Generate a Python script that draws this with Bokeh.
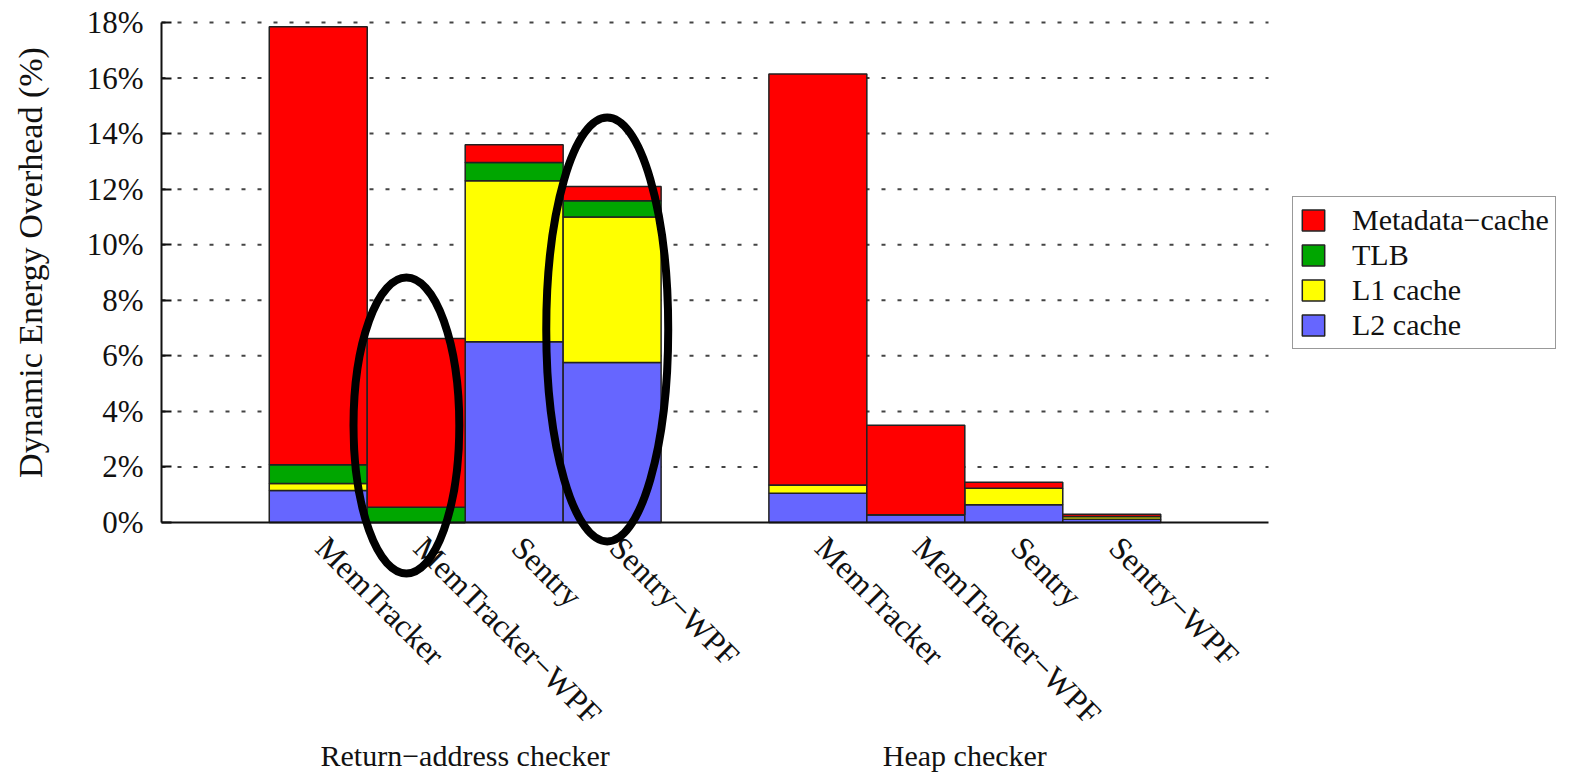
import math
from bokeh.plotting import figure
from bokeh.models import (ColumnDataSource, FixedTicker, PrintfTickFormatter,
                          Legend, LegendItem, Range1d)
from bokeh.core.properties import value
from bokeh.embed import file_html
from bokeh.resources import INLINE

# ---- data ----
groups = ["Return−address checker", "Heap checker"]
configs = ["MemTracker", "MemTracker−WPF", "Sentry", "Sentry−WPF"]
components = ["L2 cache", "L1 cache", "TLB", "Metadata−cache"]
colors = ["#6666FF", "#FFFF00", "#00A600", "#FF0000"]

# order: group 1 (4 configs), group 2 (4 configs)
l2_cache = [1.15, 0.00, 6.51, 5.76, 1.05, 0.28, 0.64, 0.12]
l1_cache = [0.25, 0.00, 5.79, 5.24, 0.30, 0.00, 0.59, 0.10]
tlb = [0.68, 0.55, 0.66, 0.58, 0.00, 0.00, 0.00, 0.00]
metadata_cache = [15.77, 6.07, 0.64, 0.52, 14.80, 3.22, 0.22, 0.08]

y_ticks = [0, 2, 4, 6, 8, 10, 12, 14, 16, 18]
y_title = "Dynamic Energy Overhead (%)"

# ---- layout (bar units) ----
bar_w = 1.0
gap = 1.1
xs, names, group_centers = [], [], []
for g in range(len(groups)):
    start = gap + g * (len(configs) * bar_w + gap)
    group_centers.append(start + len(configs) * bar_w / 2)
    for i, c in enumerate(configs):
        xs.append(start + (i + 0.5) * bar_w)
        names.append(c)
x_end = gap + len(groups) * (len(configs) * bar_w + gap)
y_top = y_ticks[-1]

W, H = 1570, 774
LEFT, TOP = 161, 22          # screen position of the axes origin / top
PX_PER_X = 1107 / x_end
PX_PER_Y = 500 / y_top
view_x_start = -LEFT / PX_PER_X
view_x_end = (W - LEFT) / PX_PER_X
view_y_max = y_top + TOP / PX_PER_Y
view_y_min = y_top - (H - TOP) / PX_PER_Y

src = ColumnDataSource(dict(x=xs, **{
    "L2 cache": l2_cache, "L1 cache": l1_cache, "TLB": tlb, "Metadata−cache": metadata_cache}))

FONT = "Liberation Serif"
TXT = "#111111"

p = figure(width=W, height=H, output_backend="svg", toolbar_location=None,
           x_range=Range1d(view_x_start, view_x_end), y_range=Range1d(view_y_min, view_y_max),
           min_border_left=0, min_border_top=0, min_border_bottom=0, min_border_right=0)
p.outline_line_color = None
p.background_fill_color = "white"
p.xgrid.visible = False
p.ygrid.visible = False
p.xaxis.visible = False

# dotted horizontal grid lines limited to the plotting area
grid_y = y_ticks[1:]
p.segment(x0=[0] * len(grid_y), x1=[x_end] * len(grid_y), y0=grid_y, y1=grid_y,
          line_color="#444444", line_dash="4 12", line_width=2)

rs = p.vbar_stack(components, x="x", width=bar_w, source=src, color=colors,
                  line_color="#222222", line_width=1.5)

# x axis line
p.segment(x0=[0], x1=[x_end], y0=[0], y1=[0], line_color="#111111", line_width=2)

# y axis, pinned at x = 0
ya = p.yaxis[0]
ya.fixed_location = 0
ya.bounds = (0, y_top)
ya.ticker = FixedTicker(ticks=y_ticks)
ya.formatter = PrintfTickFormatter(format="%d%%")
ya.major_tick_in = 10
ya.major_tick_out = 0
ya.minor_tick_line_color = None
ya.major_tick_line_width = 2
ya.axis_line_width = 2
ya.axis_line_color = "#111111"
ya.major_tick_line_color = "#111111"
ya.major_label_text_font = FONT
ya.major_label_text_font_size = "31px"
ya.major_label_text_color = TXT
ya.major_label_standoff = 18

# y axis title, centred on the 0-18% span
p.text(x=[0], y=[y_top / 2], text=[y_title], angle=math.pi / 2,
       text_align="center", text_baseline="middle", x_offset=-131, y_offset=-10,
       text_font=value(FONT), text_font_size="34px", text_color=TXT)

# config labels (rotated) below each bar
p.text(x=xs, y=[0] * len(xs), text=names, angle=-math.pi / 4,
       text_align="left", text_baseline="top", x_offset=16, y_offset=7,
       text_font=value(FONT), text_font_size="32px", text_color=TXT)

# group labels
p.text(x=group_centers, y=[0] * len(group_centers), text=groups,
       text_align="center", text_baseline="top", y_offset=216,
       text_font=value(FONT), text_font_size="30px", text_color=TXT)

# highlight ellipses (annotations around the WPF variants)
hl_x = [xs[1] - 0.1, xs[3] - 0.05]
hl_y = [3.49, 6.95]
hl_w = [1.08, 1.245]
hl_h = [10.66, 15.26]
p.ellipse(x=hl_x, y=hl_y, width=hl_w, height=hl_h, fill_color=None,
          line_color="black", line_width=8)

# legend
items = [LegendItem(label=c, renderers=[r]) for c, r in zip(components, rs)][::-1]
leg = Legend(items=items, location=(1292, H - 349))
leg.label_text_font = FONT
leg.label_text_font_size = "30px"
leg.label_text_color = TXT
leg.glyph_width = 28
leg.glyph_height = 26
leg.label_height = 26
leg.spacing = 1
leg.padding = 6
leg.label_standoff = 25
leg.margin = 0
leg.border_line_color = "#333333"
leg.border_line_width = 1.5
leg.background_fill_color = "white"
leg.background_fill_alpha = 1
p.add_layout(leg)

open("out.html", "w").write(file_html(p, INLINE))
